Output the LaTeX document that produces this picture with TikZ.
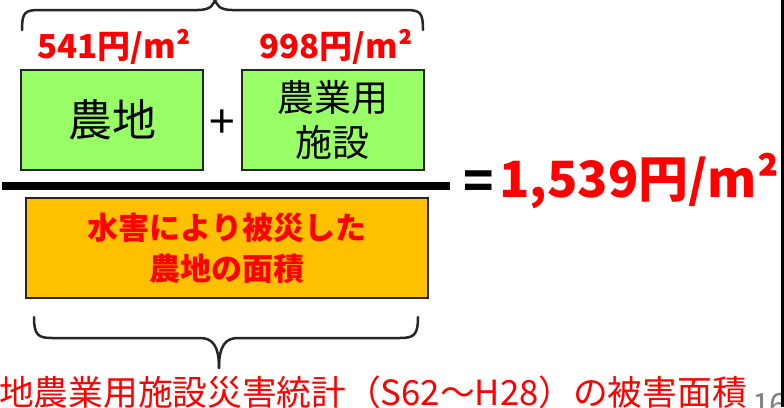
\documentclass[tikz,border=0pt]{standalone}
\usepackage{fontspec}
\setmainfont{Noto Sans CJK JP}
\definecolor{boxgreen}{HTML}{99FF66}
\definecolor{boxorange}{HTML}{FFC000}
\definecolor{redtxt}{HTML}{FF0000}
\definecolor{pagegray}{HTML}{808080}
\tikzset{
  greenbox/.style={draw=black!85, line width=2pt, fill=boxgreen, minimum width=182pt, minimum height=100pt, inner sep=0pt, align=center},
  orangebox/.style={draw=black!85, line width=2pt, fill=boxorange, minimum width=402pt, minimum height=100pt, inner sep=0pt, align=center},
  price/.style={text=redtxt, font=\bfseries\fontsize{33}{35}\selectfont, inner sep=0pt},
  bracepath/.style={draw=black!85, line width=2.5pt, line cap=round, line join=round}
}
\begin{document}
\begin{tikzpicture}[x=1pt,y=-1pt]
\useasboundingbox (0,0) rectangle (784,407);
% top brace
\draw[bracepath] (22,30) .. controls (22,12) and (25,10) .. (40,10) -- (198,10) .. controls (210,10) and (215,5) .. (215,-3);
\draw[bracepath] (215,-3) .. controls (215,5) and (220,10) .. (232,10) -- (405,10) .. controls (420,10) and (423,12) .. (423,30);
% prices
\node[price] (p1) at (114,47) {541円/m²};
\node[price] (p2) at (336,47) {998円/m²};
% green boxes
\node[greenbox, font=\fontsize{44}{46}\selectfont] (farm) at (112,120) {農地};
\node[font=\fontsize{46}{48}\selectfont, inner sep=0pt] (plus) at (222,124) {+};
\node[greenbox, font=\fontsize{37}{45}\selectfont] (fac) at (332.5,120) {農業用\\施設};
% fraction bar
\coordinate (barL) at (2,186);
\coordinate (barR) at (450,186);
\draw[line width=8pt] (barL) -- (barR);
% result
\node[font=\bfseries\fontsize{50}{52}\selectfont, inner sep=0pt] (eq) at (479,185) {=};
\node[anchor=west, text=redtxt, font=\bfseries\fontsize{50}{52}\selectfont, inner sep=0pt] (res) at (499,181) {1,539円/m²};
% orange box
\node[orangebox, text=redtxt, font=\bfseries\fontsize{31}{41}\selectfont] (area) at (227,248) {水害により被災した\\農地の面積};
% bottom brace
\draw[bracepath] (34,317) .. controls (34,335) and (38,338) .. (52,338) -- (200,338) .. controls (212,338) and (219,345) .. (219,368);
\draw[bracepath] (219,368) .. controls (219,345) and (226,338) .. (238,338) -- (400,338) .. controls (414,338) and (418,335) .. (418,317);
% bottom text
\node[anchor=west, text=redtxt, font=\fontsize{34.7}{36}\selectfont, inner sep=0pt] (src) at (-1,392) {地農業用施設災害統計（S62～H28）の被害面積};
% page number (clipped)
\begin{scope}
\clip (740,380) rectangle (781,407);
\node[anchor=west, text=pagegray, font=\fontsize{32}{34}\selectfont, inner sep=0pt] (pg) at (752,405) {16};
\end{scope}
% right edge line
\coordinate (edgeT) at (782.5,0);
\coordinate (edgeB) at (782.5,407);
\draw[line width=3pt] (edgeT) -- (edgeB);
\end{tikzpicture}
\end{document}
